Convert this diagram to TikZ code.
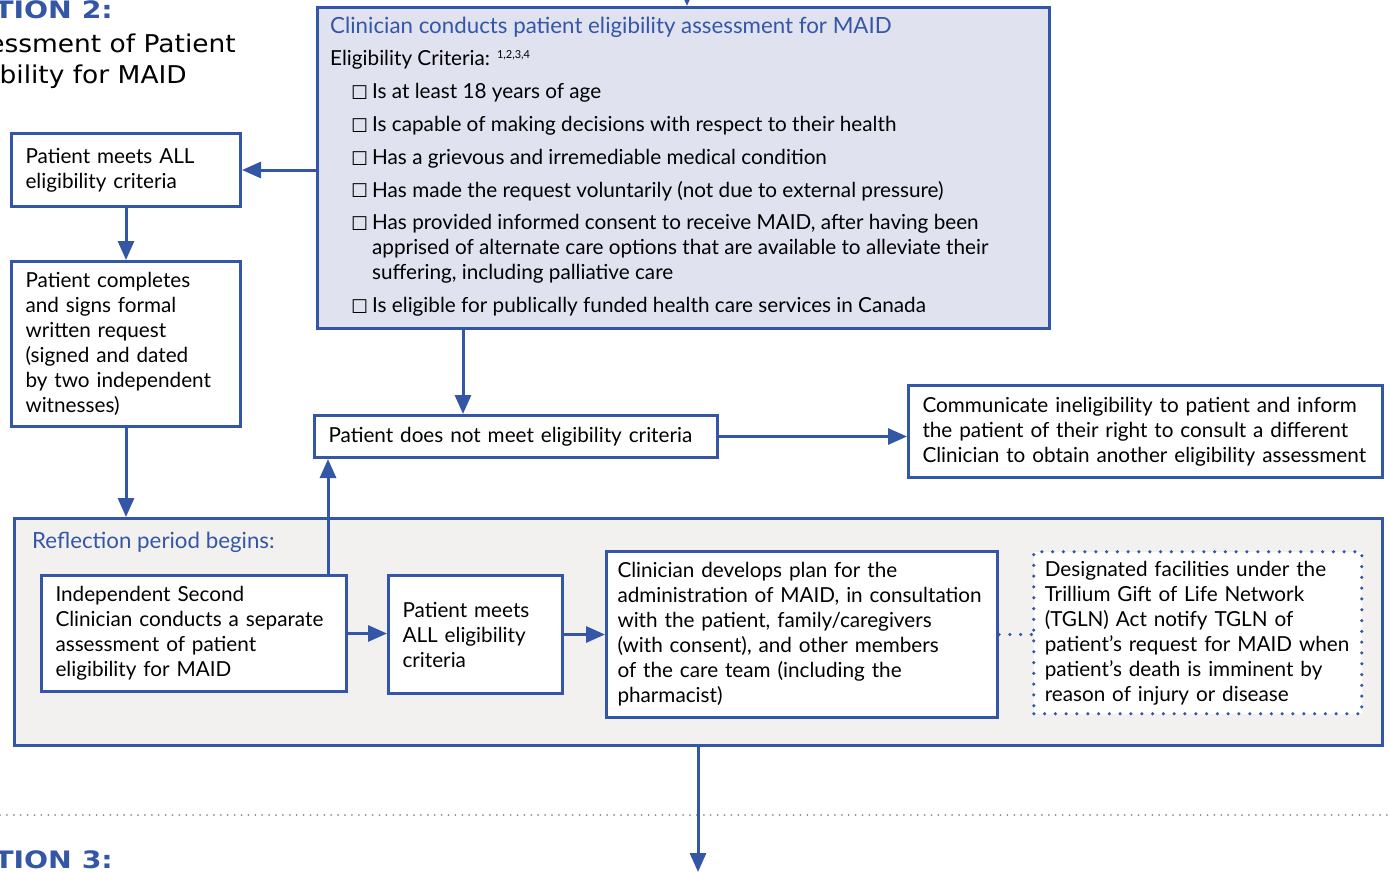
\documentclass[tikz,border=0pt]{standalone}
\usepackage{fontspec}
\setmainfont{Lato}
\newfontfamily\headfont[FakeStretch=1.08]{DejaVu Sans}
\newfontfamily\headboldfont[FakeStretch=1.18]{DejaVu Sans Bold}
\newfontfamily\symfont{DejaVu Sans}
\usetikzlibrary{arrows.meta}

\definecolor{maidblue}{RGB}{52,86,166}
\definecolor{lavender}{RGB}{224,226,240}
\definecolor{reflgray}{RGB}{242,241,240}
\definecolor{sepgray}{RGB}{140,140,140}

\newcommand\bodysize{\fontsize{20.7}{25}\selectfont}
\newcommand\bluesize{\fontsize{22.3}{25}\selectfont}
\newcommand\chk{{\symfont\fontsize{19}{19}\selectfont ☐}}

\tikzset{
  flowbox/.style={draw=maidblue, line width=3pt, fill=white, align=left,
    inner xsep=14pt, inner ysep=0pt, anchor=north west},
  dotbox/.style={flowbox, draw=maidblue, line width=3.5pt, line cap=round,
    dash pattern=on 0pt off 10.8pt},
  flowarrow/.style={->, draw=maidblue, line width=3pt},
  sectitle/.style={font=\headboldfont\fontsize{24}{24}\selectfont,
    text=maidblue, anchor=base east, inner sep=0pt},
  secsub/.style={font=\headfont\fontsize{24.5}{24.5}\selectfont,
    anchor=base east, inner sep=0pt},
  crit/.style={anchor=west, inner sep=0pt, align=left}
}

\begin{document}
\begin{tikzpicture}[x=1pt, y=-1pt, >={Triangle[width=16pt,length=19pt]}, font=\bodysize]
\useasboundingbox (0,0) rectangle (1389,871);

% section heads, cut by the page edge
\node[sectitle] (sec2) at (113,18) {SECTION 2:};
\node[secsub] (sec2a) at (236,52) {Assessment of Patient};
\node[secsub] (sec2b) at (187,83) {Eligibility for MAID};

\draw[sepgray, line width=2pt, line cap=round, dash pattern=on 0pt off 6.9pt] (0,815) -- (1389,815);
\node[sectitle] (sec3) at (113,868) {SECTION 3:};

% eligibility assessment
\node[flowbox, fill=lavender, minimum width=732, minimum height=321] (assess) at (316,6) {};
\node[crit, text=maidblue, font=\bluesize] (asstitle) at (330,27) {Clinician conducts patient eligibility assessment for MAID};
\node[crit] (critlabel) at (330,60) {Eligibility Criteria: \textsuperscript{\fontsize{11}{11}\selectfont 1,2,3,4}};
\foreach \i/\by/\ty/\txt in {
  1/93/93/{Is at least 18 years of age},
  2/126/126/{Is capable of making decisions with respect to their health},
  3/159/159/{Has a grievous and irremediable medical condition},
  4/191/191/{Has made the request voluntarily (not due to external pressure)},
  5/224/249/{Has provided informed consent to receive MAID, after having been\\apprised of alternate care options that are available to alleviate their\\suffering, including palliative care},
  6/307/307/{Is eligible for publically funded health care services in Canada}}{
  \node[crit] (box\i) at (351,\by) {\chk};
  \node[crit] (item\i) at (372,\ty) {\txt};
}

\coordinate (prev) at (687,-40);
\draw[flowarrow] (prev) -- (prev |- assess.north);

% left column
\node[flowbox, minimum width=229, minimum height=73, text width=201] (meets) at (10,132)
  {Patient meets ALL\\eligibility criteria};
\node[flowbox, minimum width=229, minimum height=165, text width=201] (request) at (10,260)
  {Patient completes\\and signs formal\\written request\\(signed and dated\\by two independent\\witnesses)};

% not eligible
\node[flowbox, minimum width=403, minimum height=42, text width=375] (notmeet) at (313,414)
  {Patient does not meet eligibility criteria};
\node[flowbox, minimum width=474, minimum height=92, text width=446] (inform) at (907,384)
  {Communicate ineligibility to patient and inform\\the patient of their right to consult a different\\Clinician to obtain another eligibility assessment};

% reflection period
\node[flowbox, fill=reflgray, minimum width=1368, minimum height=227] (reflect) at (13,517) {};
\node[crit, text=maidblue, font=\bluesize] (refltitle) at (32,542) {Reflection period begins:};
\node[flowbox, minimum width=305, minimum height=116, text width=277] (second) at (40,574)
  {Independent Second\\Clinician conducts a separate\\assessment of patient\\eligibility for MAID};
\node[flowbox, minimum width=174, minimum height=118, text width=146] (meetsall) at (387,574)
  {Patient meets\\ALL eligibility\\criteria};
\node[flowbox, inner xsep=11pt, minimum width=391, minimum height=166, text width=369] (plan) at (605,550)
  {Clinician develops plan for the\\administration of MAID, in consultation\\with the patient, family/caregivers\\(with consent), and other members\\of the care team (including the\\pharmacist)};
\node[dotbox, inner xsep=11pt, minimum width=328, minimum height=162, text width=306] (tgln) at (1032,550)
  {Designated facilities under the\\Trillium Gift of Life Network\\(TGLN) Act notify TGLN of\\patient’s request for MAID when\\patient’s death is imminent by\\reason of injury or disease};

\coordinate (next) at (698,872);

% connectors
\draw[flowarrow] (meets.east -| assess.west) -- (meets.east);
\draw[flowarrow] (meets.south) -- (request.north);
\draw[flowarrow] (request.south) -- (request.south |- reflect.north);
\draw[flowarrow] (463,0 |- assess.south) -- (463,0 |- notmeet.north);
\draw[flowarrow] (notmeet.east) -- (notmeet.east -| inform.west);
\draw[flowarrow] (328,0 |- second.north) -- (328,0 |- notmeet.south);
\draw[flowarrow] (second.east) -- (second.east -| meetsall.west);
\draw[flowarrow] (meetsall.east) -- (meetsall.east -| plan.west);
\draw[maidblue, line width=3.5pt, line cap=round, dash pattern=on 0pt off 10.8pt] (plan.east) -- (plan.east -| tgln.west);
\draw[flowarrow] (next |- reflect.south) -- (next);

\end{tikzpicture}
\end{document}
